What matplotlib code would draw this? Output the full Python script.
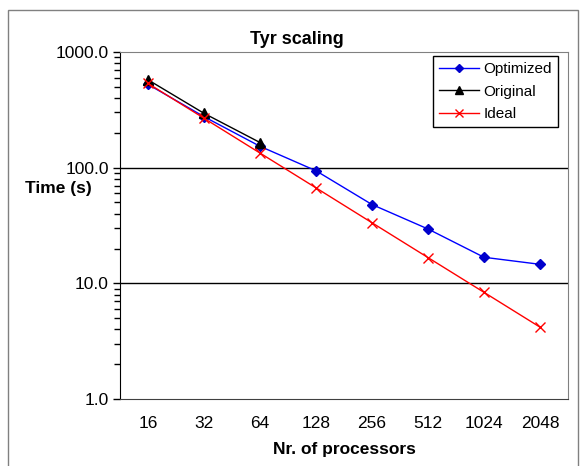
import numpy as np
import matplotlib
matplotlib.use("Agg")
import matplotlib.pyplot as plt
from matplotlib.patches import Rectangle
from matplotlib.ticker import LogLocator, FormatStrFormatter, NullFormatter

plt.rcParams['font.family'] = ['Liberation Sans', 'DejaVu Sans']

# data
processors = ['16', '32', '64', '128', '256', '512', '1024', '2048']
optimized = [525, 276, 153, 94, 48, 29.5, 16.8, 14.6]
original = [575, 295, 165]
ideal = [535, 267.5, 133.75, 66.9, 33.4, 16.7, 8.36, 4.18]

W, H = 582, 466
fig = plt.figure(figsize=(W / 100, H / 100), dpi=100)

# outer chart border
fig.patches.append(Rectangle((8 / W, -0.05), (578 - 8) / W, 1 - 10 / H + 0.05,
                             transform=fig.transFigure, fill=False,
                             edgecolor='#808080', linewidth=1.0))

ax = fig.add_axes([120 / W, 1 - 399 / H, (568 - 120) / W, (399 - 52) / H])

x = np.arange(len(processors))
ax.plot(x, optimized, color='#0000ff', marker='D', markersize=5.5,
        markerfacecolor='#0000cc', markeredgecolor='#0000cc', linewidth=1.0, label='Optimized')
ax.plot(x[:len(original)], original, color='black', marker='^', markersize=7,
        linewidth=1.0, label='Original')
ax.plot(x, ideal, color='#ff0000', marker='x', markersize=7.5, markeredgewidth=1.0,
        linewidth=1.0, label='Ideal')

ax.set_yscale('log')
ax.set_ylim(1, 1000)
ax.set_xlim(-0.5, len(processors) - 0.5)
ax.yaxis.set_major_locator(LogLocator(base=10, numticks=10))
ax.yaxis.set_minor_locator(LogLocator(base=10, subs=np.arange(2, 10), numticks=10))
ax.yaxis.set_major_formatter(FormatStrFormatter('%.1f'))
ax.yaxis.set_minor_formatter(NullFormatter())
ax.set_xticks(x)
ax.set_xticklabels(processors)

ax.tick_params(axis='y', which='major', direction='out', length=5, width=1,
               labelsize=12.5, pad=3)
ax.tick_params(axis='y', which='minor', direction='out', length=4, width=1)
ax.tick_params(axis='x', length=0, labelsize=12.5, pad=12)

for yv in [10, 100]:
    ax.axhline(yv, color='black', linewidth=1.0, zorder=0.5)

ax.spines['top'].set_color('#808080')
ax.spines['right'].set_color('#808080')
ax.spines['bottom'].set_color('#404040')
ax.spines['left'].set_color('black')

ax.set_xlabel('Nr. of processors', fontsize=12.5, fontweight='bold', labelpad=8)
ax.set_ylabel('Time (s)', fontsize=12.5, fontweight='bold', rotation=0,
              ha='center', va='center')
ax.yaxis.set_label_coords((58 - 120) / 448, (399 - 188) / 347)

fig.text(297 / W, 1 - 40 / H, 'Tyr scaling', fontsize=13, fontweight='bold',
         ha='center', va='center')

leg = ax.legend(loc='upper right', bbox_to_anchor=(0.978, 0.988), borderaxespad=0,
                fontsize=11, fancybox=False, framealpha=1, edgecolor='black',
                handlelength=2.6, borderpad=0.4, labelspacing=0.55,
                handletextpad=0.3, markerscale=0.8)
leg.get_frame().set_linewidth(1.0)

fig.savefig('out.png', dpi=100)
